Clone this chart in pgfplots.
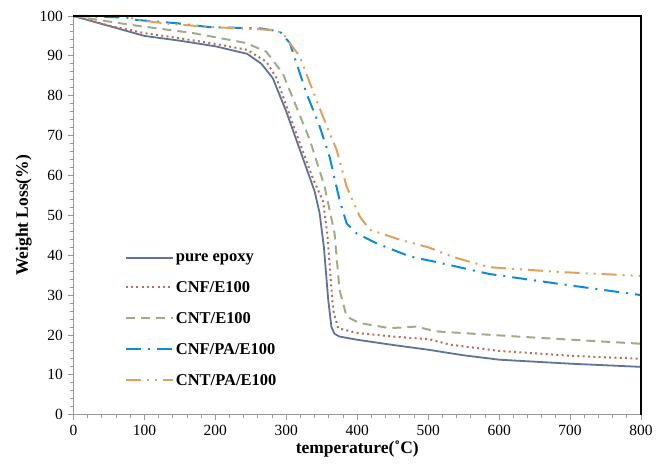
\documentclass[border=0pt]{standalone}
\usepackage{fontspec}
\setmainfont{Liberation Serif}
\usepackage{pgfplots}
\pgfplotsset{compat=1.18}
\definecolor{cpure}{RGB}{95,115,150}
\definecolor{ccnf}{RGB}{185,110,90}
\definecolor{ccnt}{RGB}{160,172,135}
\definecolor{ccnfpa}{RGB}{12,140,212}
\definecolor{ccntpa}{RGB}{225,160,95}
\begin{document}
\begin{tikzpicture}
\begin{axis}[
  scale only axis, width=568pt, height=399pt,
  xmin=0, xmax=800, ymin=0, ymax=100,
  xtick={0,100,...,800}, ytick={0,10,...,100},
  minor x tick num=4, minor y tick num=4,
  xtick pos=left, ytick pos=left, tick align=outside,
  major tick length=5pt, minor tick length=3pt,
  tick style={color=gray!80, line width=0.9pt},
  axis line style={gray!80, line width=1.4pt},
  /pgf/number format/assume math mode=true,
  tick label style={font=\fontsize{15.5}{17}\selectfont},
  xticklabel style={yshift=-2pt},
  yticklabel style={xshift=-2pt},
  xlabel={\textbf{temperature(˚C)}},
  ylabel={\textbf{Weight Loss(\%)}},
  label style={font=\fontsize{17.5}{19}\selectfont},
  xlabel style={yshift=2pt},
  ylabel style={yshift=1pt},
  legend style={draw=none, fill=none, at={(rel axis cs:0.085,0.415)}, anchor=north west,
    font=\fontsize{16.5}{18}\selectfont\bfseries, row sep=14.5pt},
  legend cell align=left,
  legend image code/.code={\draw[#1] (0pt,0pt) -- (47pt,0pt);},
  clip=false,
]
\addplot[cpure, line width=1.8pt] coordinates {
(0,100) (50,97.5) (100,95) (150,93.8) (200,92.4) (245,90.5) (265,88) (281,84.4)
(300,76) (320,66) (340,56) (347,50.5) (353,42) (359,29) (363.6,22) (368,20.3)
(375,19.6) (400,18.8) (450,17.5) (500,16.3) (550,14.9) (600,13.8) (700,12.8) (800,12)};
\addlegendentry{pure epoxy}
\addplot[ccnf, line width=2pt, dash pattern=on 2pt off 3.3pt] coordinates {
(0,100) (50,97.6) (100,95.7) (150,94.4) (200,93) (245,91.5) (272,88.5) (286,84.5)
(310,72.5) (338,59) (352,53.5) (358,45) (363,33) (366,26.3) (373,21.7) (400,20.5)
(450,19.6) (480,19.2) (500,19) (530,17.6) (600,16) (700,14.8) (800,14)};
\addlegendentry{CNF/E100}
\addplot[ccnt, line width=2pt, dash pattern=on 9pt off 6pt] coordinates {
(0,100) (50,98.6) (84,97.7) (169,95.7) (244,93.2) (272,91) (295,85.6) (333,69)
(354,57.2) (368,45.5) (375,31.3) (385,24.6) (403,23) (446,21.7) (483,22.1)
(511,20.9) (635,19.5) (800,17.8)};
\addlegendentry{CNT/E100}
\addplot[ccnfpa, line width=2pt, dash pattern=on 15pt off 7pt on 2pt off 7pt] coordinates {
(0,100) (75,99.6) (89,99) (145,98.2) (192,97.2) (263,96.9) (291,96.1) (305,93.2)
(328.5,80.6) (347,72.3) (361,64.7) (375,53.9) (385,48) (399,45.5) (427,43)
(474,39.7) (511,38.3) (586,35.3) (685,32.8) (800,30)};
\addlegendentry{CNF/PA/E100}
\addplot[ccntpa, line width=2pt, dash pattern=on 15pt off 6pt on 2pt off 6pt on 2pt off 6pt] coordinates {
(0,100) (75,100) (89,99) (136,98) (196,97.2) (281,96.5) (295,95.7) (319,89.8)
(342.5,78.9) (361,70.6) (371,66.4) (385,57.2) (403.5,49.7) (417.6,46.4) (460,43.9)
(500,42) (536,39.5) (586,37) (685,35.8) (800,34.8)};
\addlegendentry{CNT/PA/E100}
\draw[black, line width=1.4pt] (rel axis cs:0,1) -- (rel axis cs:1,1) -- (rel axis cs:1,0);
\end{axis}
\path[use as bounding box] (-73.5pt,-56pt) rectangle (582.5pt,415pt);
\end{tikzpicture}
\end{document}
